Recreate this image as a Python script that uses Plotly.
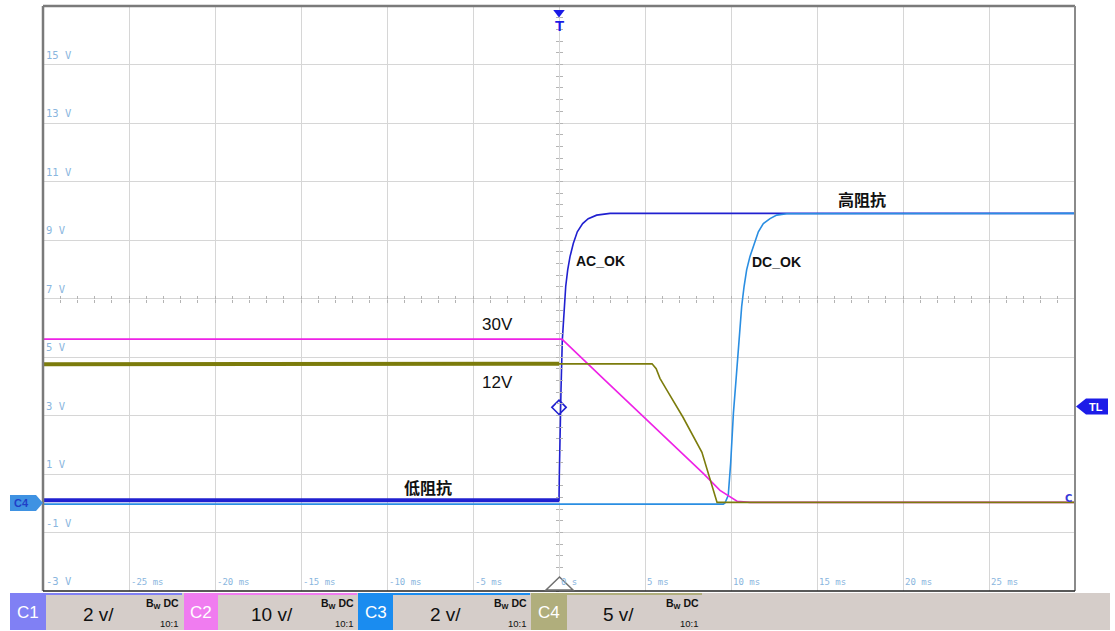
import plotly.graph_objects as go

# ---------------- data (time in ms, level in V as displayed on the 2 V/div grid) -------------
c1_t = [-30, -0.01, 0.0, 0.02, 0.06, 0.116, 0.192, 0.291, 0.39, 0.506, 0.64, 0.831, 1.064,
        1.375, 1.70, 2.19, 2.97, 30]
c1_v = [0.1, 0.1, 0.1, 1.0, 3.0, 3.86, 5.57, 6.72, 7.41, 7.98, 8.43, 8.88, 9.28,
        9.56, 9.73, 9.85, 9.91, 9.91]

c2_t = [-30, 0.17, 2.56, 5.12, 8.37, 9.36, 10.35, 11.1, 30]
c2_v = [5.61, 5.61, 4.27, 2.84, 1.03, 0.44, 0.07, 0.03, 0.03]

c3_t = [-30, 9.55, 9.65, 9.84, 9.98, 10.14, 10.29, 10.48, 10.62, 10.76, 10.91, 11.1, 11.34,
        11.59, 11.88, 12.27, 12.66, 13.24, 30]
c3_v = [-0.03, -0.03, 0.01, 0.27, 1.37, 3.08, 4.2, 5.57, 6.72, 7.41, 7.98, 8.43, 8.88,
        9.28, 9.56, 9.73, 9.85, 9.9, 9.91]

c4_t = [-30, 0.0, 5.41, 5.65, 5.87, 6.28, 7.21, 8.31, 8.78, 9.19, 30]
c4_v = [4.75, 4.77, 4.77, 4.6, 4.27, 3.86, 2.94, 1.74, 0.79, 0.03, 0.03]

x_ticks = [-25, -20, -15, -10, -5, 0, 5, 10, 15, 20, 25]
x_tick_labels = ["-25 ms", "-20 ms", "-15 ms", "-10 ms", "-5 ms", "0 s",
                 "5 ms", "10 ms", "15 ms", "20 ms", "25 ms"]
y_ticks = [15, 13, 11, 9, 7, 5, 3, 1, -1, -3]
y_tick_labels = ["15 V", "13 V", "11 V", "9 V", "7 V", "5 V", "3 V", "1 V", "-1 V", "-3 V"]

trigger_level = 3.28

channels = ["C1", "C2", "C3", "C4"]
scales = ["2 v/", "10 v/", "2 v/", "5 v/"]

notes = [
    ("高阻抗", 17.6, 10.39),
    ("AC_OK", 2.44, 8.27),
    ("DC_OK", 12.67, 8.24),
    ("30V", -3.6, 6.12),
    ("12V", -3.6, 4.14),
    ("低阻抗", -7.62, 0.55),
]

# ---------------- styling ----------------
W, H = 1115, 631
L, R, T, B = 43, 1075, 6, 591

def px(x):
    return (x - L) / (R - L)

def py(y):
    return (B - y) / (B - T)

COL1 = "#2020d0"
COL2 = "#ee22e6"
COL3 = "#2a8ee2"
COL4 = "#7c7c0c"
BOX = ["#8080f4", "#f07cf0", "#1a8cf0", "#b0ae7c"]
GRID = "#d6d6d6"
LBL = "#8ab6de"

fig = go.Figure()

def pre(ts, vs):
    xs, ys = [], []
    for t, v in zip(ts, vs):
        if t <= 0:
            xs.append(t)
            ys.append(v)
    return xs, ys

# dark blue C1
xp, yp = pre(c1_t, c1_v)
fig.add_trace(go.Scatter(x=xp, y=yp, mode="lines", line=dict(color=COL1, width=4), hoverinfo="skip"))
fig.add_trace(go.Scatter(x=c1_t, y=c1_v, mode="lines", line=dict(color=COL1, width=1.6), hoverinfo="skip"))
# light blue C3
fig.add_trace(go.Scatter(x=c3_t, y=c3_v, mode="lines", line=dict(color=COL3, width=1.6), hoverinfo="skip"))
# magenta C2
xp, yp = pre(c2_t, c2_v)
fig.add_trace(go.Scatter(x=c2_t, y=c2_v, mode="lines", line=dict(color=COL2, width=1.6), hoverinfo="skip"))
fig.add_trace(go.Scatter(x=xp, y=yp, mode="lines", line=dict(color=COL2, width=2.8), hoverinfo="skip"))
# olive C4
xp, yp = pre(c4_t, c4_v)
fig.add_trace(go.Scatter(x=xp, y=yp, mode="lines", line=dict(color=COL4, width=4), hoverinfo="skip"))
fig.add_trace(go.Scatter(x=c4_t, y=c4_v, mode="lines", line=dict(color=COL4, width=1.6), hoverinfo="skip"))

# trigger diamond
fig.add_trace(go.Scatter(x=[0], y=[trigger_level], mode="markers",
                         marker=dict(symbol="diamond-open", size=11, color=COL1, line=dict(width=1.6)),
                         hoverinfo="skip"))
# trigger marker at top
fig.add_trace(go.Scatter(x=[0], y=[16.78], mode="markers", cliponaxis=False,
                         marker=dict(symbol="triangle-down", size=10, color="#1a1ae6"),
                         hoverinfo="skip"))

# empty traces on helper axes (centre cross ticks)
for xa, ya in [("x2", "y"), ("x3", "y"), ("x", "y2"), ("x", "y3")]:
    fig.add_trace(go.Scatter(x=[None], y=[None], xaxis=xa, yaxis=ya, showlegend=False, hoverinfo="skip"))

annotations = []

def ann(**kw):
    kw.setdefault("showarrow", False)
    kw.setdefault("xanchor", "center")
    kw.setdefault("yanchor", "middle")
    annotations.append(kw)

# trigger T
ann(x=0, y=py(26), xref="x", yref="paper", text="<b>T</b>",
    font=dict(family="Liberation Sans", size=15, color="#1a1ae6"))
# tick labels
for v, s in zip(y_ticks, y_tick_labels):
    ann(x=0, y=v, xref="paper", yref="y", text=s, xanchor="left", xshift=1, yshift=10,
        font=dict(family="DejaVu Sans Mono", size=10.5, color=LBL))
for t, s in zip(x_ticks, x_tick_labels):
    ann(x=t, y=0, xref="x", yref="paper", text=s, xanchor="left", xshift=0, yshift=9,
        font=dict(family="DejaVu Sans Mono", size=9, color=LBL))
# notes
for txt, t, v in notes:
    if txt in ("30V", "12V"):
        f = dict(family="Liberation Sans", size=17, color="#111111")
        s = txt
    elif txt in ("AC_OK", "DC_OK"):
        f = dict(family="Liberation Sans", size=14, color="#111111")
        s = "<b>" + txt + "</b>"
    else:
        f = dict(family="Noto Sans CJK SC", size=16, color="#111111")
        s = "<b>" + txt + "</b>"
    ann(x=t, y=v, xref="x", yref="y", text=s, font=f)

# little C at right end
ann(x=px(1068), y=py(498), xref="paper", yref="paper", text="<b>C</b>",
    font=dict(family="DejaVu Sans", size=10, color="#3a3ad8"))

shapes = []
# plot borders
shapes.append(dict(type="line", xref="paper", yref="paper", x0=0, x1=1, y0=1, y1=1,
                   line=dict(color="#7a7a7a", width=2.5)))
shapes.append(dict(type="line", xref="paper", yref="paper", x0=0, x1=0, y0=0, y1=1,
                   line=dict(color="#7a7a7a", width=2.5)))
shapes.append(dict(type="line", xref="paper", yref="paper", x0=1, x1=1, y0=0, y1=1,
                   line=dict(color="#8a8a8a", width=2)))
shapes.append(dict(type="line", xref="paper", yref="paper", x0=0, x1=1, y0=0, y1=0,
                   line=dict(color="#222222", width=1.5)))

# bottom trigger-position triangle
shapes.append(dict(type="path", xref="paper", yref="paper",
                   path="M {a},{b} L {c},{d} L {e},{d} Z".format(a=px(559.5), b=py(577), c=px(546), d=py(590), e=px(573)),
                   fillcolor="white", line=dict(color="#707070", width=1.5)))

# TL tag (right)
tl = "M {x0},{ym} L {x1},{yt} L {x2},{yt} L {x2},{yb} L {x1},{yb} Z".format(
    x0=px(1076), x1=px(1086), x2=px(1108), ym=py(406.5), yt=py(398.5), yb=py(414.5))
shapes.append(dict(type="path", xref="paper", yref="paper", path=tl, fillcolor="#1c1ce8", line=dict(width=0)))
ann(x=px(1096), y=py(406.5), xref="paper", yref="paper", text="<b>TL</b>",
    font=dict(family="Liberation Sans", size=11, color="white"))

# C4 ground tag (left)
gt = "M {x0},{yt} L {x1},{yt} L {x2},{ym} L {x1},{yb} L {x0},{yb} Z".format(
    x0=px(10), x1=px(36), x2=px(43), ym=py(503), yt=py(495), yb=py(511))
shapes.append(dict(type="path", xref="paper", yref="paper", path=gt, fillcolor="#3f92e2", line=dict(width=0)))
ann(x=px(21), y=py(503), xref="paper", yref="paper", text="<b>C4</b>",
    font=dict(family="Liberation Sans", size=11, color="#1f3fc8"))

# bottom status bar
shapes.append(dict(type="rect", xref="paper", yref="paper", x0=px(10), x1=px(1110), y0=py(630), y1=py(593),
                   fillcolor="#d5cdc9", line=dict(width=0), layer="below"))
box_x = [(10, 46, 182), (184, 218, 357), (358, 393, 530), (531, 567, 702)]
for i, (a, b, c) in enumerate(box_x):
    shapes.append(dict(type="rect", xref="paper", yref="paper", x0=px(a), x1=px(b), y0=py(630), y1=py(593),
                       fillcolor=BOX[i], line=dict(width=0)))
    shapes.append(dict(type="line", xref="paper", yref="paper", x0=px(b), x1=px(c), y0=py(594), y1=py(594),
                       line=dict(color=BOX[i], width=2)))
    ann(x=px((a + b) / 2), y=py(612), xref="paper", yref="paper", text=channels[i],
        font=dict(family="Liberation Sans", size=17, color="white"))
    ann(x=px((b + c) / 2 - 16), y=py(614), xref="paper", yref="paper", text=scales[i],
        font=dict(family="Liberation Sans", size=19, color="#111111"))
    ann(x=px(c - 1), y=py(604), xref="paper", yref="paper", xanchor="right",
        text="<b>B<sub>W</sub> DC</b>",
        font=dict(family="Liberation Sans", size=10.5, color="#111111"))
    ann(x=px(c - 1), y=py(623), xref="paper", yref="paper", xanchor="right",
        text="10:1", font=dict(family="Liberation Sans", size=9.5, color="#111111"))

tickcol = "#b4b4b4"
fig.update_layout(
    width=W, height=H,
    margin=dict(l=L, r=W - R, t=T, b=H - B),
    paper_bgcolor="white", plot_bgcolor="white",
    showlegend=False,
    xaxis=dict(range=[-30, 30], tick0=-30, dtick=5, showgrid=True, gridcolor=GRID, gridwidth=1,
               showticklabels=False, ticks="", zeroline=False, showline=False, fixedrange=True),
    yaxis=dict(range=[-3, 17], tick0=-3, dtick=2, showgrid=True, gridcolor=GRID, gridwidth=1,
               showticklabels=False, ticks="", zeroline=False, showline=False, fixedrange=True),
    xaxis2=dict(overlaying="x", anchor="free", position=0.5, range=[-30, 30], tick0=-30, dtick=1,
                ticks="inside", ticklen=3, tickcolor=tickcol, showticklabels=False, showgrid=False,
                zeroline=False, showline=False),
    xaxis3=dict(overlaying="x", anchor="free", position=0.5, range=[-30, 30], tick0=-30, dtick=1,
                ticks="outside", ticklen=3, tickcolor=tickcol, showticklabels=False, showgrid=False,
                zeroline=False, showline=False),
    yaxis2=dict(overlaying="y", anchor="free", position=0.5, range=[-3, 17], tick0=-3, dtick=0.4,
                ticks="inside", ticklen=3, tickcolor=tickcol, showticklabels=False, showgrid=False,
                zeroline=False, showline=False),
    yaxis3=dict(overlaying="y", anchor="free", position=0.5, range=[-3, 17], tick0=-3, dtick=0.4,
                ticks="outside", ticklen=3, tickcolor=tickcol, showticklabels=False, showgrid=False,
                zeroline=False, showline=False),
    shapes=shapes,
    annotations=annotations,
)

fig.write_html("out.html", config={"displayModeBar": False},
               post_script="document.body.style.margin='0';")
